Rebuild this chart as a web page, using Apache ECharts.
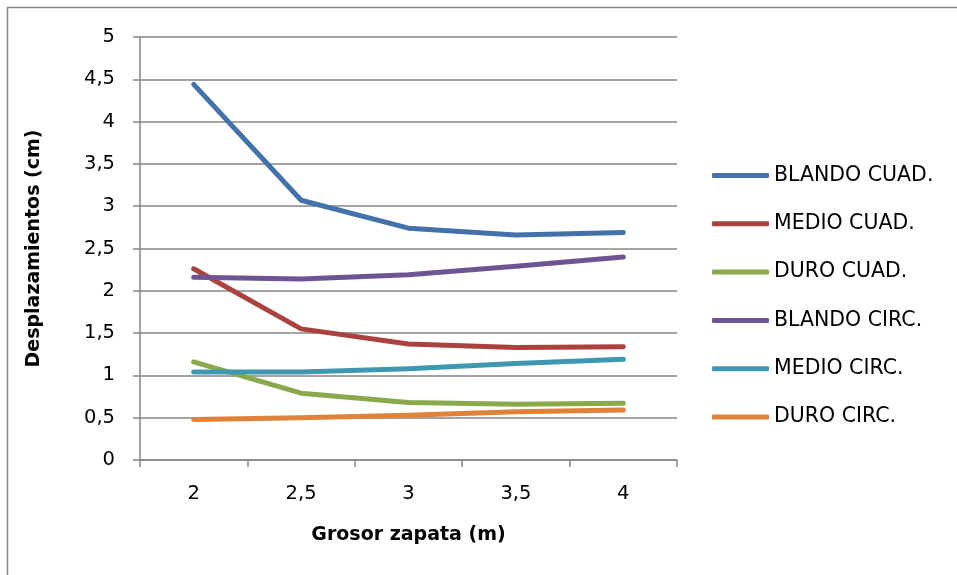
<!DOCTYPE html>
<html>
<head>
<meta charset="utf-8">
<script src="https://cdn.jsdelivr.net/npm/echarts@6/dist/echarts.min.js"></script>
<style>
  html, body { margin: 0; padding: 0; background: #ffffff; }
  #chart { width: 957px; height: 575px; }
</style>
</head>
<body>
<div id="chart"></div>
<script>
// Grosor de zapata (m)
var categories = ['2', '2,5', '3', '3,5', '4'];

// Desplazamientos (cm) por tipo de suelo y forma de zapata
var blandoCuad = [4.44, 3.07, 2.74, 2.66, 2.69];
var medioCuad  = [2.26, 1.55, 1.37, 1.33, 1.34];
var duroCuad   = [1.16, 0.79, 0.68, 0.66, 0.67];
var blandoCirc = [2.16, 2.14, 2.19, 2.29, 2.40];
var medioCirc  = [1.04, 1.04, 1.08, 1.14, 1.19];
var duroCirc   = [0.48, 0.50, 0.53, 0.57, 0.59];

var seriesNames = ['BLANDO CUAD.', 'MEDIO CUAD.', 'DURO CUAD.', 'BLANDO CIRC.', 'MEDIO CIRC.', 'DURO CIRC.'];
var seriesData = [blandoCuad, medioCuad, duroCuad, blandoCirc, medioCirc, duroCirc];
var seriesColors = ['#4571AA', '#AA4340', '#8AA94B', '#6F5493', '#3E98B1', '#E1823A'];

var FONT = 'DejaVu Sans';
var GRAY = '#868686';

var chart = echarts.init(document.getElementById('chart'), null, { renderer: 'canvas' });

function fmt(v) { return String(v).replace('.', ','); }

chart.setOption({
  animation: false,
  backgroundColor: '#ffffff',
  graphic: [{
    type: 'rect',
    shape: { x: 7.5, y: 7.5, width: 1000, height: 1000 },
    style: { fill: 'none', stroke: GRAY, lineWidth: 1.5 },
    silent: true
  }],
  grid: { left: 140, right: 280, top: 37, bottom: 115 },
  legend: {
    orient: 'vertical',
    left: 707,
    top: 160,
    itemWidth: 57,
    itemHeight: 5,
    itemGap: 27.3,
    icon: 'roundRect',
    data: seriesNames,
    textStyle: { fontFamily: FONT, fontSize: 20.5, color: '#000000' }
  },
  xAxis: {
    type: 'category',
    data: categories,
    boundaryGap: true,
    name: 'Grosor zapata (m)',
    nameLocation: 'middle',
    nameGap: 66,
    nameTextStyle: { fontFamily: FONT, fontSize: 19, fontWeight: 'bold', color: '#000000' },
    axisLine: { lineStyle: { color: GRAY, width: 1.5 } },
    axisTick: { show: true, alignWithLabel: false, length: 7, lineStyle: { color: GRAY, width: 1.5 } },
    axisLabel: { fontFamily: FONT, fontSize: 19.5, color: '#000000', margin: 24 },
    splitLine: { show: false }
  },
  yAxis: {
    type: 'value',
    min: 0,
    max: 5,
    interval: 0.5,
    name: 'Desplazamientos (cm)',
    nameLocation: 'middle',
    nameGap: 96,
    nameRotate: 90,
    nameTextStyle: { fontFamily: FONT, fontSize: 19, fontWeight: 'bold', color: '#000000' },
    axisLine: { show: true, lineStyle: { color: GRAY, width: 1.5 } },
    axisTick: { show: true, length: 7, lineStyle: { color: GRAY, width: 1.5 } },
    axisLabel: { fontFamily: FONT, fontSize: 19.5, color: '#000000', margin: 25, formatter: fmt },
    splitLine: { show: true, lineStyle: { color: GRAY, width: 1.5 } }
  },
  series: seriesNames.map(function (name, i) {
    return {
      name: name,
      type: 'line',
      data: seriesData[i],
      showSymbol: false,
      symbol: 'none',
      color: seriesColors[i],
      lineStyle: { color: seriesColors[i], width: 5, cap: 'round', join: 'round' }
    };
  })
});
</script>
</body>
</html>
